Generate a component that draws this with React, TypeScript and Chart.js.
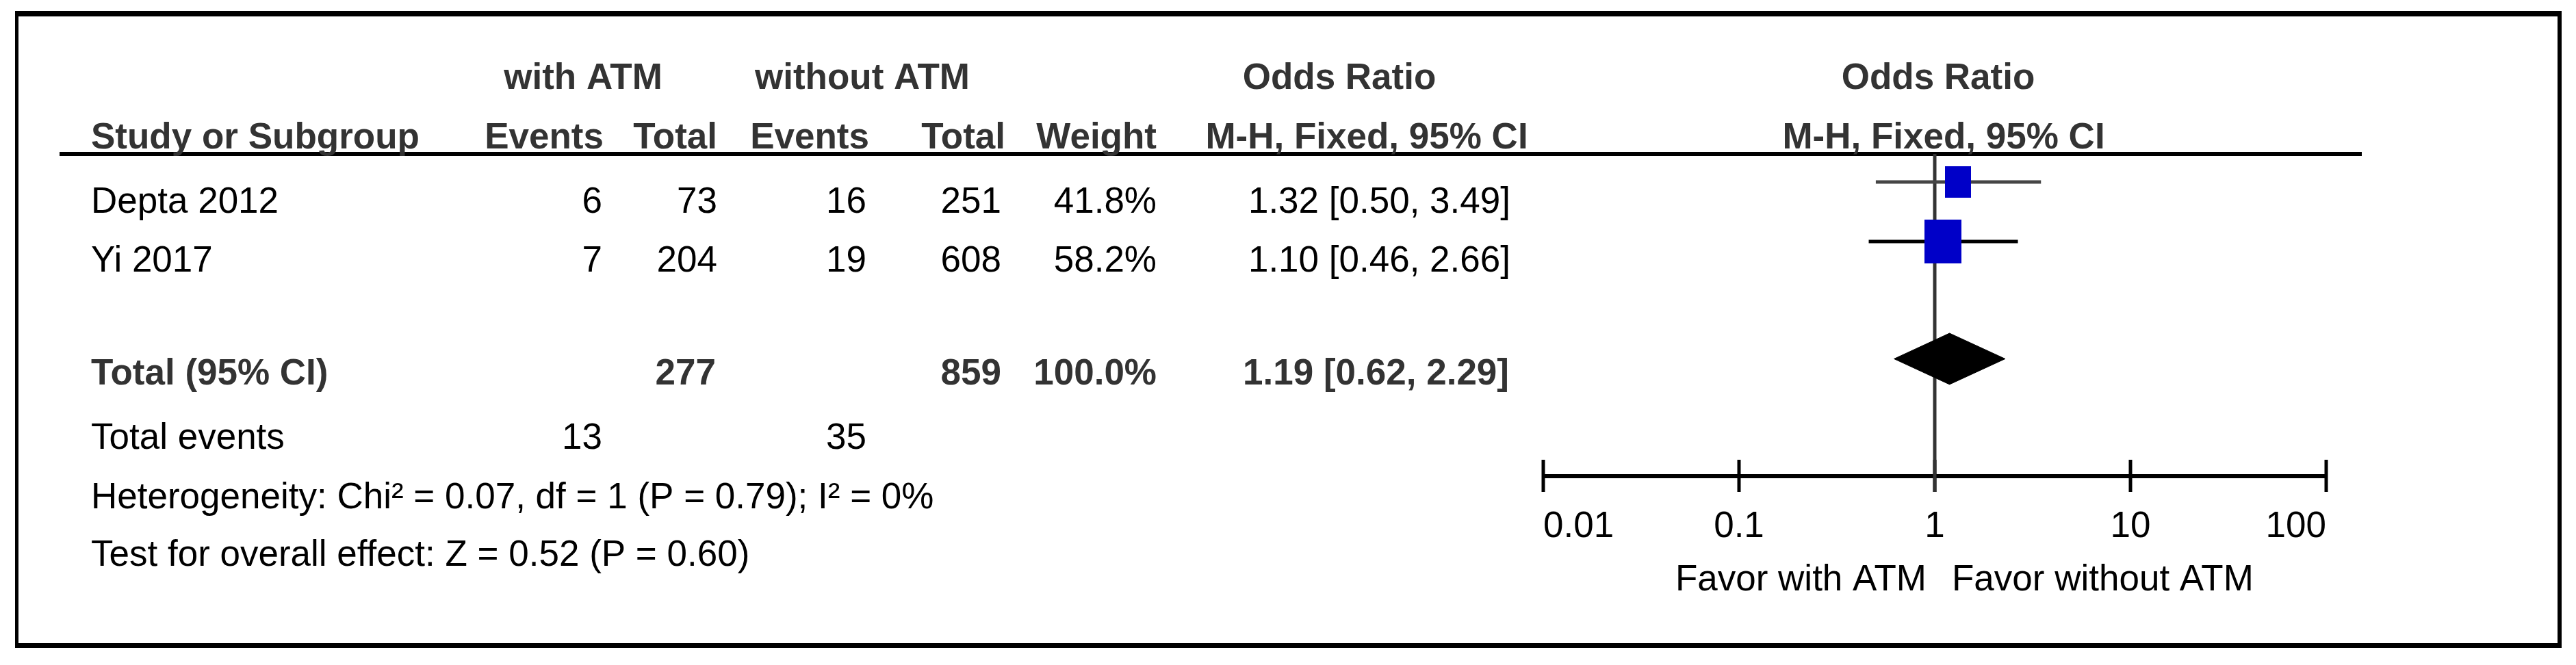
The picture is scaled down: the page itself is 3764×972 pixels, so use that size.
import React, { useEffect, useRef } from 'react';
import { Chart, registerables } from 'chart.js';

Chart.register(...registerables);

// ---------- data ----------
const studies = ['Depta 2012', 'Yi 2017'];
const eventsWith = [6, 7];
const totalWith = [73, 204];
const eventsWithout = [16, 19];
const totalWithout = [251, 608];
const weights = [41.8, 58.2];
const oddsRatio = [1.32, 1.10];
const ciLow = [0.50, 0.46];
const ciHigh = [3.49, 2.66];

const pooledOR = 1.19;
const pooledLow = 0.62;
const pooledHigh = 2.29;
const pooledTotalWith = 277;
const pooledTotalWithout = 859;
const pooledWeight = '100.0%';
const totalEventsWith = 13;
const totalEventsWithout = 35;

const heterogeneityText = 'Heterogeneity: Chi\u00B2 = 0.07, df = 1 (P = 0.79); I\u00B2 = 0%';
const overallEffectText = 'Test for overall effect: Z = 0.52 (P = 0.60)';

const tickValues = [0.01, 0.1, 1, 10, 100];
const tickLabels = ['0.01', '0.1', '1', '10', '100'];
const favorLeft = 'Favor with ATM';
const favorRight = 'Favor without ATM';

// ---------- style ----------
const FONT = '"Liberation Sans", Arial, Helvetica, sans-serif';
const FS = 53;
const BOLD_COLOR = '#333333';
const TEXT_COLOR = '#000000';
const BLUE = '#0000c8';

const fmtCI = (o: number, l: number, h: number) =>
  `${o.toFixed(2)} [${l.toFixed(2)}, ${h.toFixed(2)}]`;

export default function App() {
  const ref = useRef<HTMLCanvasElement>(null);

  useEffect(() => {
    const canvas = ref.current;
    if (!canvas) return;

    const rowOf = (i: number) => i + 0.47;
    const pooledRow = studies.length + 1.44;
    const diamondHalf = 0.43;

    const mkSquare = (w: number) => {
      const c = document.createElement('canvas');
      const side = 0.92 * w;
      c.width = Math.round(side);
      c.height = Math.round(side * 1.2);
      const g = c.getContext('2d')!;
      g.fillStyle = BLUE;
      g.fillRect(0, 0, c.width, c.height);
      return c;
    };
    const squareStyles = weights.map(mkSquare);

    const ciColors = ['#454545', '#000000'];

    const ciDatasets = studies.map((s, i) => ({
      label: s + ' CI',
      data: [
        { x: ciLow[i], y: rowOf(i) },
        { x: ciHigh[i], y: rowOf(i) },
      ],
      showLine: true,
      borderColor: ciColors[i],
      borderWidth: 5,
      pointRadius: 0,
      order: 2,
    }));

    const squareDataset = {
      label: 'estimates',
      data: studies.map((_, i) => ({ x: oddsRatio[i], y: rowOf(i) })),
      showLine: false,
      pointStyle: squareStyles,
      pointRadius: 10,
      order: 0,
    };

    const diamondDataset = {
      label: 'pooled',
      data: [
        { x: pooledLow, y: pooledRow },
        { x: pooledOR, y: pooledRow - diamondHalf },
        { x: pooledHigh, y: pooledRow },
        { x: pooledOR, y: pooledRow + diamondHalf },
        { x: pooledLow, y: pooledRow },
      ],
      showLine: true,
      fill: 'shape',
      backgroundColor: '#000000',
      borderColor: '#000000',
      borderWidth: 1,
      pointRadius: 0,
      tension: 0,
      order: 1,
    };

    const text = (
      ctx: CanvasRenderingContext2D,
      s: string,
      x: number,
      y: number,
      align: CanvasTextAlign,
      bold = false
    ) => {
      ctx.font = `${bold ? 'bold ' : ''}${FS}px ${FONT}`;
      ctx.fillStyle = bold ? BOLD_COLOR : TEXT_COLOR;
      ctx.textAlign = align;
      ctx.textBaseline = 'alphabetic';
      ctx.fillText(s, x, y);
    };

    const decorPlugin = {
      id: 'forestDecor',
      beforeDatasetsDraw(chart: any) {
        const ctx: CanvasRenderingContext2D = chart.ctx;
        const xs = chart.scales.x;
        const area = chart.chartArea;
        ctx.save();
        // frame
        ctx.fillStyle = '#000';
        ctx.fillRect(22, 16, 3721, 8);
        ctx.fillRect(22, 16, 5, 931);
        ctx.fillRect(3737, 16, 6, 931);
        ctx.fillRect(22, 940, 3721, 7);
        // header rule
        ctx.fillRect(87, area.top - 3, 3451 - 87, 6);

        // axis
        const axisY = area.bottom;
        const x0 = xs.getPixelForValue(tickValues[0]);
        const x1 = xs.getPixelForValue(tickValues[tickValues.length - 1]);
        ctx.strokeStyle = '#000';
        ctx.lineWidth = 6;
        ctx.beginPath();
        ctx.moveTo(x0, axisY);
        ctx.lineTo(x1, axisY);
        ctx.stroke();
        ctx.lineWidth = 5;
        tickValues.forEach((v) => {
          const px = xs.getPixelForValue(v);
          ctx.beginPath();
          ctx.moveTo(px, axisY - 24);
          ctx.lineTo(px, axisY + 23);
          ctx.stroke();
        });
        // line of no effect
        const px1 = xs.getPixelForValue(1);
        ctx.strokeStyle = '#333';
        ctx.lineWidth = 5;
        ctx.beginPath();
        ctx.moveTo(px1, area.top);
        ctx.lineTo(px1, axisY + 23);
        ctx.stroke();
        ctx.restore();
      },
      afterDraw(chart: any) {
        const ctx: CanvasRenderingContext2D = chart.ctx;
        const xs = chart.scales.x;
        const area = chart.chartArea;
        ctx.save();

        // header row 1
        text(ctx, 'with ATM', 852, 130, 'center', true);
        text(ctx, 'without ATM', 1260, 130, 'center', true);
        text(ctx, 'Odds Ratio', 1957, 130, 'center', true);
        text(ctx, 'Odds Ratio', 2832, 130, 'center', true);
        // header row 2
        text(ctx, 'Study or Subgroup', 133, 217, 'left', true);
        text(ctx, 'Events', 882, 217, 'right', true);
        text(ctx, 'Total', 1048, 217, 'right', true);
        text(ctx, 'Events', 1270, 217, 'right', true);
        text(ctx, 'Total', 1469, 217, 'right', true);
        text(ctx, 'Weight', 1690, 217, 'right', true);
        text(ctx, 'M-H, Fixed, 95% CI', 1997, 217, 'center', true);
        text(ctx, 'M-H, Fixed, 95% CI', 2840, 217, 'center', true);

        // study rows
        const rowBase = [311, 397];
        studies.forEach((s, i) => {
          const y = rowBase[i];
          text(ctx, s, 133, y, 'left');
          text(ctx, String(eventsWith[i]), 880, y, 'right');
          text(ctx, String(totalWith[i]), 1048, y, 'right');
          text(ctx, String(eventsWithout[i]), 1266, y, 'right');
          text(ctx, String(totalWithout[i]), 1463, y, 'right');
          text(ctx, weights[i].toFixed(1) + '%', 1690, y, 'right');
          text(ctx, fmtCI(oddsRatio[i], ciLow[i], ciHigh[i]), 2207, y, 'right');
        });

        // total row
        text(ctx, 'Total (95% CI)', 133, 562, 'left', true);
        text(ctx, String(pooledTotalWith), 1046, 562, 'right', true);
        text(ctx, String(pooledTotalWithout), 1463, 562, 'right', true);
        text(ctx, pooledWeight, 1690, 562, 'right', true);
        text(ctx, fmtCI(pooledOR, pooledLow, pooledHigh), 2205, 562, 'right', true);

        // total events
        text(ctx, 'Total events', 133, 656, 'left');
        text(ctx, String(totalEventsWith), 880, 656, 'right');
        text(ctx, String(totalEventsWithout), 1266, 656, 'right');

        text(ctx, heterogeneityText, 133, 743, 'left');
        text(ctx, overallEffectText, 133, 827, 'left');

        // tick labels
        const labY = area.bottom + 89;
        tickValues.forEach((v, i) => {
          const px = xs.getPixelForValue(v);
          const align: CanvasTextAlign =
            i === 0 ? 'left' : i === tickValues.length - 1 ? 'right' : 'center';
          text(ctx, tickLabels[i], px, labY, align);
        });
        const p1 = xs.getPixelForValue(1);
        text(ctx, favorLeft, p1 - 12, area.bottom + 167, 'right');
        text(ctx, favorRight, p1 + 25, area.bottom + 167, 'left');

        ctx.restore();
      },
    };

    const chart = new Chart(canvas, {
      type: 'scatter',
      data: {
        datasets: [squareDataset, diamondDataset, ...ciDatasets] as any,
      },
      options: {
        responsive: false,
        animation: false,
        events: [],
        layout: {
          padding: { left: 2255, right: 365, top: 225, bottom: 276 },
        },
        scales: {
          x: { type: 'logarithmic', min: 0.01, max: 100, display: false },
          y: { type: 'linear', min: 0, max: 5.41, reverse: true, display: false },
        },
        plugins: {
          legend: { display: false },
          tooltip: { enabled: false },
        },
      } as any,
      plugins: [decorPlugin],
    });

    return () => chart.destroy();
  }, []);

  return (
    <canvas
      ref={ref}
      width={3764}
      height={972}
      style={{ position: 'absolute', left: 0, top: 0, display: 'block' }}
    />
  );
}
